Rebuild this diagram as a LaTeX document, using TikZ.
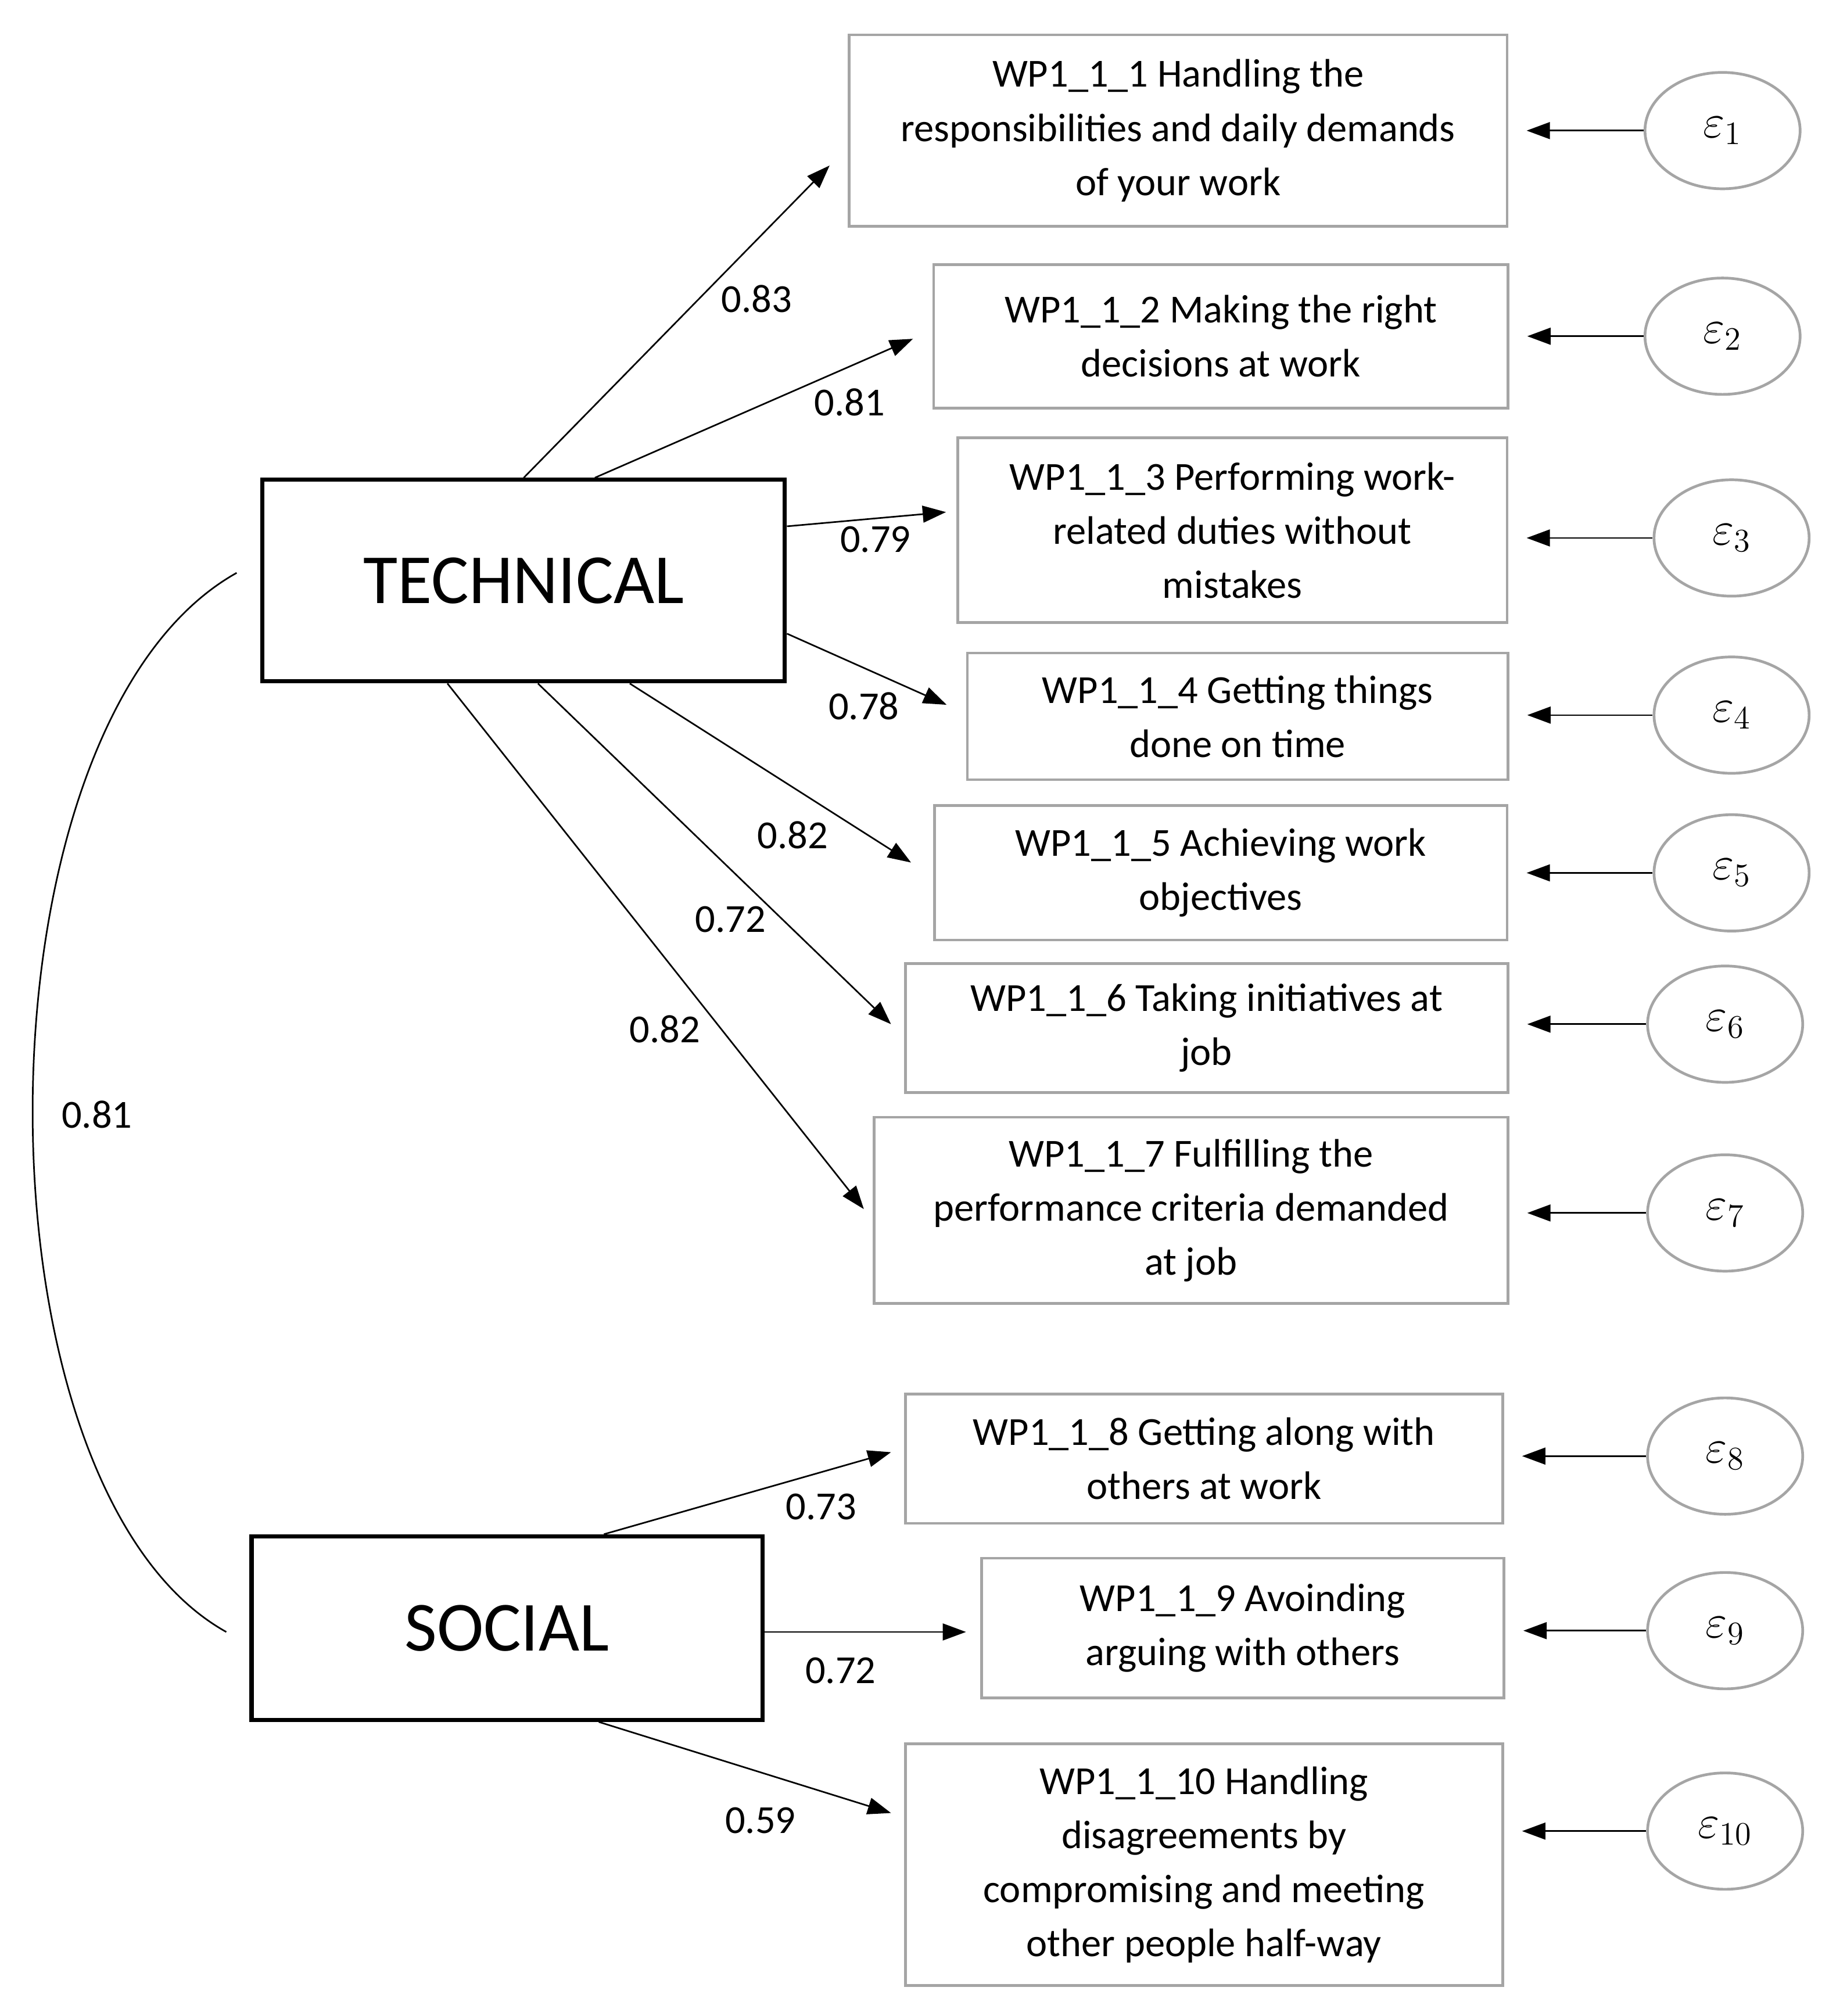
\documentclass[tikz,border=0pt]{standalone}
\usepackage{amsmath}
\usepackage{fontspec}
\setmainfont{Carlito}
\usetikzlibrary{arrows.meta, shapes.geometric, calc}

\definecolor{boxgray}{RGB}{165,165,165}

\begin{document}
\begin{tikzpicture}[
        x=0.02cm, y=-0.02cm,
        ->,
        >={Triangle[length=0.36cm, width=0.26cm]},
        every path/.style={line width=0.7pt},
        item/.style={draw=boxgray, line width=1.2pt, align=center, inner sep=0pt,
                     font=\fontsize{17.5}{23.8}\selectfont},
        factor/.style={draw=black, line width=1.8pt, inner sep=0pt,
                       font=\fontsize{31}{36}\selectfont},
        err/.style={ellipse, draw=boxgray, line width=1.2pt, minimum width=2.4cm,
                    minimum height=1.8cm, inner sep=0pt, font=\fontsize{22}{24}\selectfont},
        load/.style={font=\fontsize{17.5}{20}\selectfont}
    ]
    \useasboundingbox (0,0) rectangle (1414,1559);

    % factors
    \node [factor, minimum width=8.08cm, minimum height=3.12cm] (tech) at (405,449) {TECHNICAL};
    \node [factor, minimum width=7.9cm, minimum height=2.84cm] (soc) at (392,1259) {SOCIAL};

    % items
    \node [item, minimum width=10.18cm, minimum height=2.96cm] (item1) at (911,101) {WP1\_1\_1 Handling the\\responsibilities and daily demands\\of your work};
    \node [item, minimum width=8.88cm, minimum height=2.22cm] (item2) at (944,260) {WP1\_1\_2 Making the right\\decisions at work};
    \node [item, minimum width=8.5cm, minimum height=2.86cm] (item3) at (953,410) {WP1\_1\_3 Performing work-\\related duties without\\mistakes};
    \node [item, minimum width=8.36cm, minimum height=1.96cm] (item4) at (957,554) {WP1\_1\_4 Getting things\\done on time};
    \node [item, minimum width=8.86cm, minimum height=2.08cm] (item5) at (944,675) {WP1\_1\_5 Achieving work\\objectives};
    \node [item, minimum width=9.32cm, minimum height=2.0cm] (item6) at (933,795) {WP1\_1\_6 Taking initiatives at\\job};
    \node [item, minimum width=9.8cm, minimum height=2.88cm] (item7) at (921,936) {WP1\_1\_7 Fulfilling the\\performance criteria demanded\\at job};
    \node [item, minimum width=9.24cm, minimum height=2.0cm] (item8) at (931,1128) {WP1\_1\_8 Getting along with\\others at work};
    \node [item, minimum width=8.08cm, minimum height=2.16cm] (item9) at (961,1259) {WP1\_1\_9 Avoinding\\arguing with others};
    \node [item, minimum width=9.24cm, minimum height=3.74cm] (item10) at (931,1442) {WP1\_1\_10 Handling\\disagreements by\\compromising and meeting\\other people half-way};

    % errors
    \foreach \i/\ex/\ey in {1/1332/101, 2/1332/260, 3/1339/416, 4/1339/553, 5/1339/675,
                            6/1334/792, 7/1334/938, 8/1334/1126, 9/1334/1261, 10/1334/1416} {
        \node [err] (e\i) at (\ex,\ey) {$\varepsilon_{\i}$};
        \draw (e\i.west) -- (e\i.west -| item\i.east) [shorten >=0.28cm];
    }

    % loadings
    \draw (tech.north) -- ($(item1.west)+(-14,27)$);
    \draw ($(tech.north)+(55,0)$) -- ($(item2.west)+(-15,2)$);
    \draw ($(tech.east)+(0,-42)$) -- ($(item3.west)+(-8,-14)$);
    \draw ($(tech.east)+(0,41)$) -- ($(item4.west)+(-15,-9)$);
    \draw ($(tech.south)+(82,0)$) -- ($(item5.west)+(-17,-8)$);
    \draw ($(tech.south)+(11,0)$) -- ($(item6.west)+(-10,-3)$);
    \draw ($(tech.south)+(-59,0)$) -- ($(item7.west)+(-7,-1)$);
    \draw ($(soc.north)+(75,0)$) -- ($(item8.west)+(-10,-5)$);
    \draw ($(soc.east)+(0,3)$) -- ($(item9.west)+(-11,3)$);
    \draw ($(soc.south)+(71,0)$) -- ($(item10.west)+(-10,-40)$);

    \node [load] (l1) at (585,231) {0.83};
    \node [load] (l2) at (657,311) {0.81};
    \node [load] (l3) at (677,417) {0.79};
    \node [load] (l4) at (668,546) {0.78};
    \node [load] (l5) at (613,646) {0.82};
    \node [load] (l6) at (565,711) {0.72};
    \node [load] (l7) at (514,796) {0.82};
    \node [load] (l8) at (635,1165) {0.73};
    \node [load] (l9) at (650,1292) {0.72};
    \node [load] (l10) at (588,1408) {0.59};

    % covariance
    \coordinate (ct) at (183,443);
    \coordinate (cs) at (175,1262);
    \draw [-] (ct) .. controls (-26,560) and (-26,1150) .. (cs);
    \node [load] (lc) at (75,862) {0.81};
\end{tikzpicture}
\end{document}
